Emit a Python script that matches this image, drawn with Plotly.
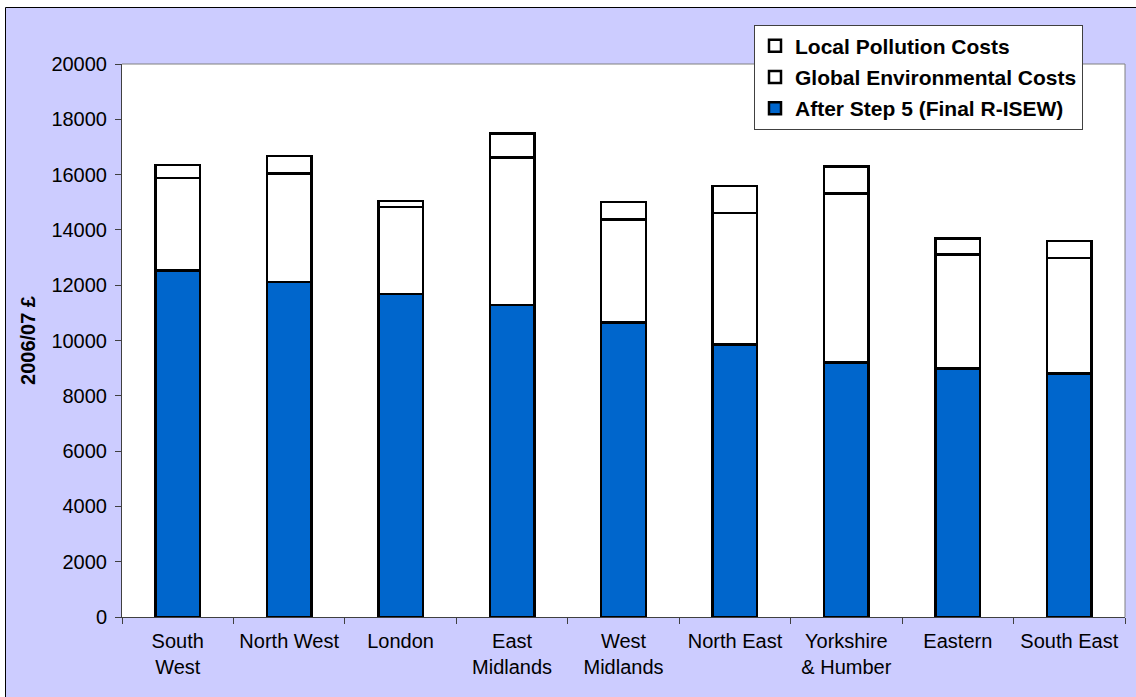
import plotly.graph_objects as go

# Regional R-ISEW per head, 2006/07 £, stacked components
regions = ["South<br>West", "North West", "London", "East<br>Midlands", "West<br>Midlands",
           "North East", "Yorkshire<br>& Humber", "Eastern", "South East"]
final_risew = [12540, 12120, 11680, 11280, 10650, 9860, 9210, 8990, 8810]
global_env_costs = [3340, 3920, 3150, 5330, 3730, 4750, 6100, 4120, 4180]
local_pollution_costs = [460, 630, 210, 870, 630, 980, 990, 580, 610]
y_ticks = [0, 2000, 4000, 6000, 8000, 10000, 12000, 14000, 16000, 18000, 20000]
y_tick_labels = [str(v) for v in y_ticks]

W, H = 1136, 697
ML, MR, MT, MB = 122, 11, 64, 80
PW, PH = W - ML - MR, H - MT - MB

FONT = "Liberation Sans, Arial, sans-serif"
LAVENDER = "#CCCCFF"
BLUE = "#0066CC"


def px_x(p):
    return (p - ML) / PW


def px_y(p):
    return (H - MB - p) / PH


fig = go.Figure()
fig.add_trace(go.Bar(x=regions, y=final_risew, name="After Step 5 (Final R-ISEW)",
                     legendgroup="a", legendrank=3,
                     marker=dict(color=BLUE, line=dict(color="black", width=2.5))))
fig.add_trace(go.Bar(x=regions, y=global_env_costs, name="Global Environmental Costs",
                     legendgroup="b", legendrank=2,
                     marker=dict(color="white", line=dict(color="black", width=2.5))))
fig.add_trace(go.Bar(x=regions, y=local_pollution_costs, name="Local Pollution Costs",
                     legendgroup="c", legendrank=1,
                     marker=dict(color="white", line=dict(color="black", width=2.5))))

shapes = [
    # white page margin outside the chart frame
    dict(type="rect", xref="paper", yref="paper", x0=px_x(-5), x1=px_x(5.5),
         y0=px_y(H + 5), y1=px_y(-5), fillcolor="white", line_width=0, layer="below"),
    dict(type="rect", xref="paper", yref="paper", x0=px_x(-5), x1=px_x(W + 5),
         y0=px_y(7.5), y1=px_y(-5), fillcolor="white", line_width=0, layer="below"),
    # chart frame
    dict(type="line", xref="paper", yref="paper", x0=px_x(5.5), x1=px_x(5.5),
         y0=px_y(H + 5), y1=px_y(7.5), line=dict(color="black", width=1), layer="below"),
    dict(type="line", xref="paper", yref="paper", x0=px_x(5.5), x1=px_x(W + 5),
         y0=px_y(7.5), y1=px_y(7.5), line=dict(color="black", width=1), layer="below"),
    # grey plot-area border (top/right)
    dict(type="line", xref="paper", yref="paper", x0=0, x1=1, y0=1, y1=1,
         line=dict(color="#808080", width=1), layer="below"),
    dict(type="line", xref="paper", yref="paper", x0=1, x1=1, y0=0, y1=1,
         line=dict(color="#808080", width=1), layer="below"),
]

fig.update_layout(
    width=W, height=H,
    margin=dict(l=ML, r=MR, t=MT, b=MB, autoexpand=False),
    paper_bgcolor=LAVENDER,
    plot_bgcolor="white",
    barmode="stack",
    bargap=0.6,
    font=dict(family=FONT, size=20, color="black"),
    shapes=shapes,
    showlegend=True,
    legend=dict(
        traceorder="grouped",
        x=px_x(754), y=px_y(24.5), xanchor="left", yanchor="top",
        bgcolor="white", bordercolor="#404040", borderwidth=1,
        font=dict(family=FONT, size=21, color="black", weight="bold"),
        itemwidth=30, tracegroupgap=1,
    ),
    xaxis=dict(
        showline=True, linecolor="#404040", linewidth=1,
        ticks="outside", ticklen=6, tickcolor="#404040", tickson="boundaries",
        tickfont=dict(size=20), tickangle=0, ticklabelstandoff=6,
        showgrid=False, fixedrange=True,
    ),
    yaxis=dict(
        range=[0, 20000], tickvals=y_ticks, ticktext=y_tick_labels,
        ticks="outside", ticklen=6,
        tickcolor="#404040", showline=True, linecolor="#404040", linewidth=1,
        showgrid=False, zeroline=False, tickfont=dict(size=20),
        ticklabelstandoff=4,
        title=dict(text="<b>2006/07 £</b>", font=dict(size=20), standoff=10),
    ),
)

fig.write_html("out.html")
